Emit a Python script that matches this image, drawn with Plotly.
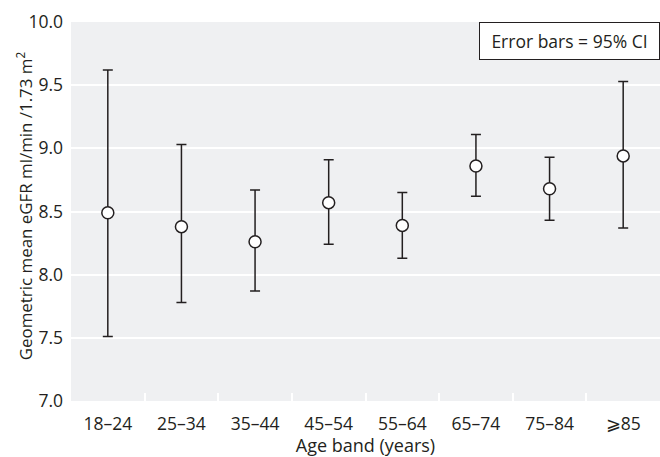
import plotly.graph_objects as go

categories = ["18–24", "25–34", "35–44", "45–54", "55–64", "65–74", "75–84", "⩾85"]
means = [8.49, 8.38, 8.26, 8.57, 8.39, 8.86, 8.68, 8.94]
lower = [7.51, 7.78, 7.87, 8.24, 8.13, 8.62, 8.43, 8.37]
upper = [9.62, 9.03, 8.67, 8.91, 8.65, 9.11, 8.93, 9.53]
y_ticks = [7.0, 7.5, 8.0, 8.5, 9.0, 9.5, 10.0]

err_plus = [u - m for u, m in zip(upper, means)]
err_minus = [m - l for m, l in zip(means, lower)]

ink = "#231f20"
font = "Open Sans, Arial, sans-serif"

fig = go.Figure()
fig.add_trace(go.Scatter(
    x=categories, y=means, mode="markers",
    marker=dict(size=12, color="white", line=dict(color=ink, width=1.5)),
    error_y=dict(type="data", symmetric=False, array=err_plus, arrayminus=err_minus,
                 color=ink, thickness=1.5, width=5),
    showlegend=False,
))

fig.update_layout(
    width=660, height=457,
    margin=dict(l=71, r=0, t=22, b=56),
    paper_bgcolor="white",
    plot_bgcolor="#eff0f2",
    font=dict(family=font, size=17, color=ink),
    xaxis=dict(
        type="category", range=[-0.5, 7.5], automargin=False,
        showgrid=False, zeroline=False, showline=False,
        ticks="inside", tickson="boundaries", tickcolor="white", ticklen=8, tickwidth=1.5,
        ticklabelstandoff=10,
        title=dict(text="Age band (years)", standoff=2, font=dict(size=18)),
        tickfont=dict(size=17.5),
    ),
    yaxis=dict(
        range=[7, 10], tickvals=y_ticks, tickformat=".1f", automargin=False,
        showgrid=True, gridcolor="white", gridwidth=1.5,
        zeroline=False, showline=False, ticks="",
        ticklabelstandoff=7,
        tickfont=dict(size=17.5),
    ),
    annotations=[
        dict(
            x=1, y=1, xref="paper", yref="paper", xanchor="right", yanchor="top",
            text="Error bars = 95% CI", showarrow=False,
            bgcolor="white", bordercolor=ink, borderwidth=1, borderpad=3,
            width=173, height=30, font=dict(size=17.5, color=ink),
        ),
        dict(
            x=-0.0785, y=0.516, xref="paper", yref="paper", xanchor="center", yanchor="middle",
            text="Geometric mean eGFR ml/min /1.73 m<sup>2</sup>", showarrow=False,
            textangle=-90, font=dict(size=16.9, color=ink),
        ),
    ],
)

fig.write_html("out.html", config={"displayModeBar": False},
               post_script="document.body.style.margin='0';")
